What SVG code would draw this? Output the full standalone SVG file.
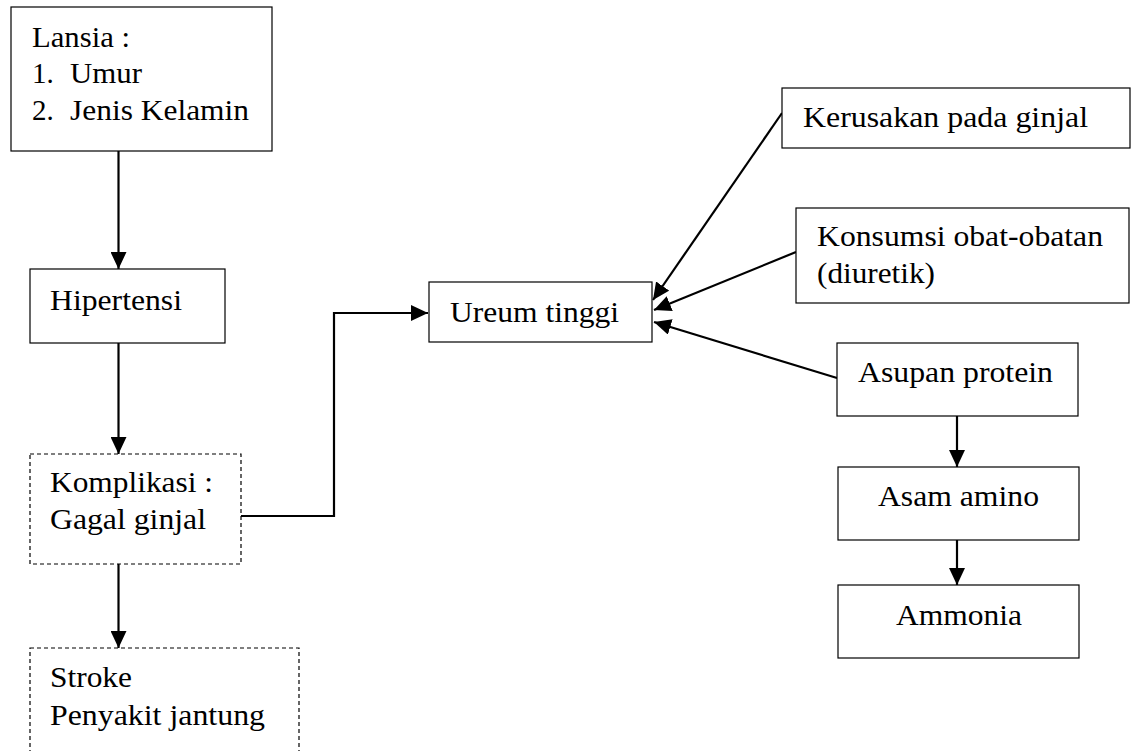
<svg xmlns="http://www.w3.org/2000/svg" width="1133" height="751" viewBox="0 0 1133 751">
<style>
.box{fill:#fff;stroke:#000;stroke-width:1.2}
.dash{fill:#fff;stroke:#000;stroke-width:1.2;stroke-dasharray:4 3}
.c{fill:none;stroke:#000;stroke-width:2.2}
text{font-family:'Liberation Serif','Times New Roman',serif;font-size:29px;fill:#000}
</style>
<defs>
<marker id="ah" markerUnits="userSpaceOnUse" markerWidth="18" markerHeight="16" refX="17" refY="8" orient="auto">
<path d="M0,0 L17,8 L0,16 Z" fill="#000"/>
</marker>
</defs>
<rect width="1133" height="751" fill="#fff"/>
<g id="connectors">
<line class="c" x1="118.5" y1="151" x2="118.5" y2="269" marker-end="url(#ah)"/>
<line class="c" x1="118.5" y1="343" x2="118.5" y2="454" marker-end="url(#ah)"/>
<line class="c" x1="118.5" y1="564" x2="118.5" y2="648" marker-end="url(#ah)"/>
<polyline class="c" points="241,516 334,516 334,313 428,313" marker-end="url(#ah)"/>
<line class="c" x1="782" y1="113" x2="653" y2="300" marker-end="url(#ah)"/>
<line class="c" x1="796" y1="252" x2="654" y2="310" marker-end="url(#ah)"/>
<line class="c" x1="837" y1="378" x2="654" y2="322" marker-end="url(#ah)"/>
<line class="c" x1="957" y1="416" x2="957" y2="467" marker-end="url(#ah)"/>
<line class="c" x1="957" y1="540" x2="957" y2="585" marker-end="url(#ah)"/>
</g>
<g id="lansia">
<rect class="box" x="11" y="7" width="261" height="144"/>
<text x="32" y="47" textLength="98" lengthAdjust="spacingAndGlyphs">Lansia :</text>
<text x="32" y="83">1.</text><text x="70" y="83" textLength="72" lengthAdjust="spacingAndGlyphs">Umur</text>
<text x="32" y="120">2.</text><text x="70" y="120" textLength="179" lengthAdjust="spacingAndGlyphs">Jenis Kelamin</text>
</g>
<g id="hipertensi">
<rect class="box" x="30" y="269" width="195" height="74"/>
<text x="50" y="310" textLength="132" lengthAdjust="spacingAndGlyphs">Hipertensi</text>
</g>
<g id="komplikasi">
<rect class="dash" x="30" y="454" width="211" height="110"/>
<text x="50" y="492" textLength="163" lengthAdjust="spacingAndGlyphs">Komplikasi :</text>
<text x="50" y="529" textLength="156" lengthAdjust="spacingAndGlyphs">Gagal ginjal</text>
</g>
<g id="stroke">
<rect class="dash" x="30" y="648" width="269" height="120"/>
<text x="50" y="687" textLength="82" lengthAdjust="spacingAndGlyphs">Stroke</text>
<text x="50" y="725" textLength="215" lengthAdjust="spacingAndGlyphs">Penyakit jantung</text>
</g>
<g id="ureum">
<rect class="box" x="429" y="282" width="223" height="60"/>
<text x="450" y="322" textLength="169" lengthAdjust="spacingAndGlyphs">Ureum tinggi</text>
</g>
<g id="kerusakan">
<rect class="box" x="782" y="88" width="348" height="60"/>
<text x="803" y="127" textLength="285" lengthAdjust="spacingAndGlyphs">Kerusakan pada ginjal</text>
</g>
<g id="konsumsi">
<rect class="box" x="796" y="208" width="333" height="95"/>
<text x="817" y="246" textLength="286" lengthAdjust="spacingAndGlyphs">Konsumsi obat-obatan</text>
<text x="817" y="283" textLength="118" lengthAdjust="spacingAndGlyphs">(diuretik)</text>
</g>
<g id="asupan">
<rect class="box" x="837" y="343" width="241" height="73"/>
<text x="858" y="382" textLength="195" lengthAdjust="spacingAndGlyphs">Asupan protein</text>
</g>
<g id="asam">
<rect class="box" x="838" y="467" width="241" height="73"/>
<text x="878" y="506" textLength="161" lengthAdjust="spacingAndGlyphs">Asam amino</text>
</g>
<g id="ammonia">
<rect class="box" x="838" y="585" width="241" height="73"/>
<text x="896" y="625" textLength="126" lengthAdjust="spacingAndGlyphs">Ammonia</text>
</g>
</svg>
